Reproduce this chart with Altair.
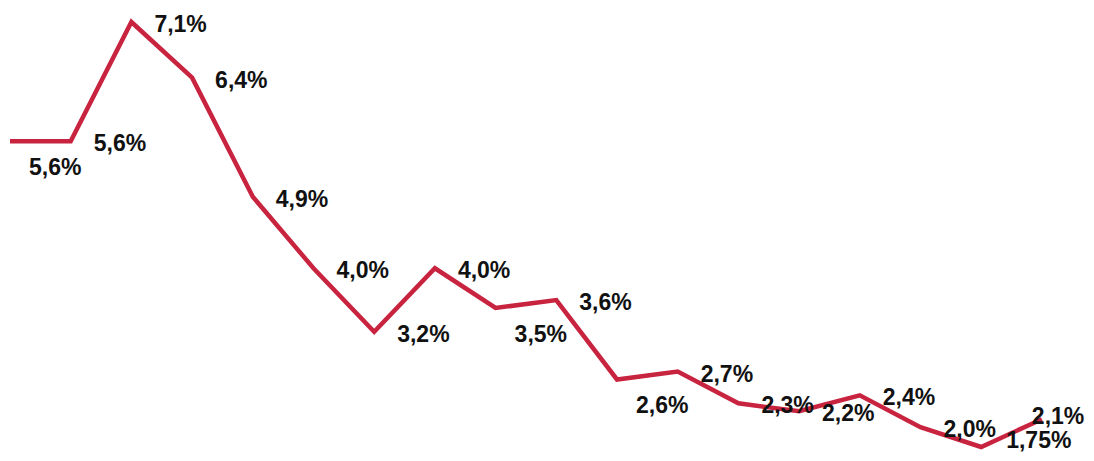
import altair as alt
import pandas as pd

# inflation-like series, one value per period
values = [5.6, 5.6, 7.1, 6.4, 4.9, 4.0, 3.2, 4.0, 3.5, 3.6, 2.6, 2.7, 2.3, 2.2, 2.4, 2.0, 1.75, 2.1]
labels = ['5,6%', '5,6%', '7,1%', '6,4%', '4,9%', '4,0%', '3,2%', '4,0%', '3,5%', '3,6%',
          '2,6%', '2,7%', '2,3%', '2,2%', '2,4%', '2,0%', '1,75%', '2,1%']
sides = ['below', 'right', 'right', 'right', 'right', 'right', 'right', 'right', 'below', 'right',
         'below', 'right', 'right', 'right', 'right', 'right', 'low', 'end']

df = pd.DataFrame({'i': range(len(values)), 'value': values, 'label': labels, 'side': sides})

x = alt.X('i:Q', axis=None, scale=alt.Scale(domain=[-0.033, 17.727], nice=False, zero=False))
y = alt.Y('value:Q', axis=None, scale=alt.Scale(domain=[1.6745, 7.2762], nice=False, zero=False))

base = alt.Chart(df).encode(x=x, y=y)

line = base.mark_line(color='#C8233F', strokeWidth=4.5, strokeJoin='miter')

text_style = dict(font='Liberation Sans', fontSize=23, fontWeight='bold', color='#111111',
                  align='left', baseline='middle')


def labels_for(side, dx, dy):
    return base.mark_text(dx=dx, dy=dy, **text_style).encode(text='label:N').transform_filter(
        alt.datum.side == side)


layers = [
    line,
    labels_for('right', 23, 3),
    labels_for('below', 19, 27),
    labels_for('low', 25, -6),
    labels_for('end', -10, -2),
]

chart = alt.layer(*layers).properties(
    width=1078, height=445, padding=0,
    autosize=alt.AutoSizeParams(type='none')
).configure_view(strokeWidth=0)

chart.save("out.html", embed_options={"renderer": "svg", "actions": False})
